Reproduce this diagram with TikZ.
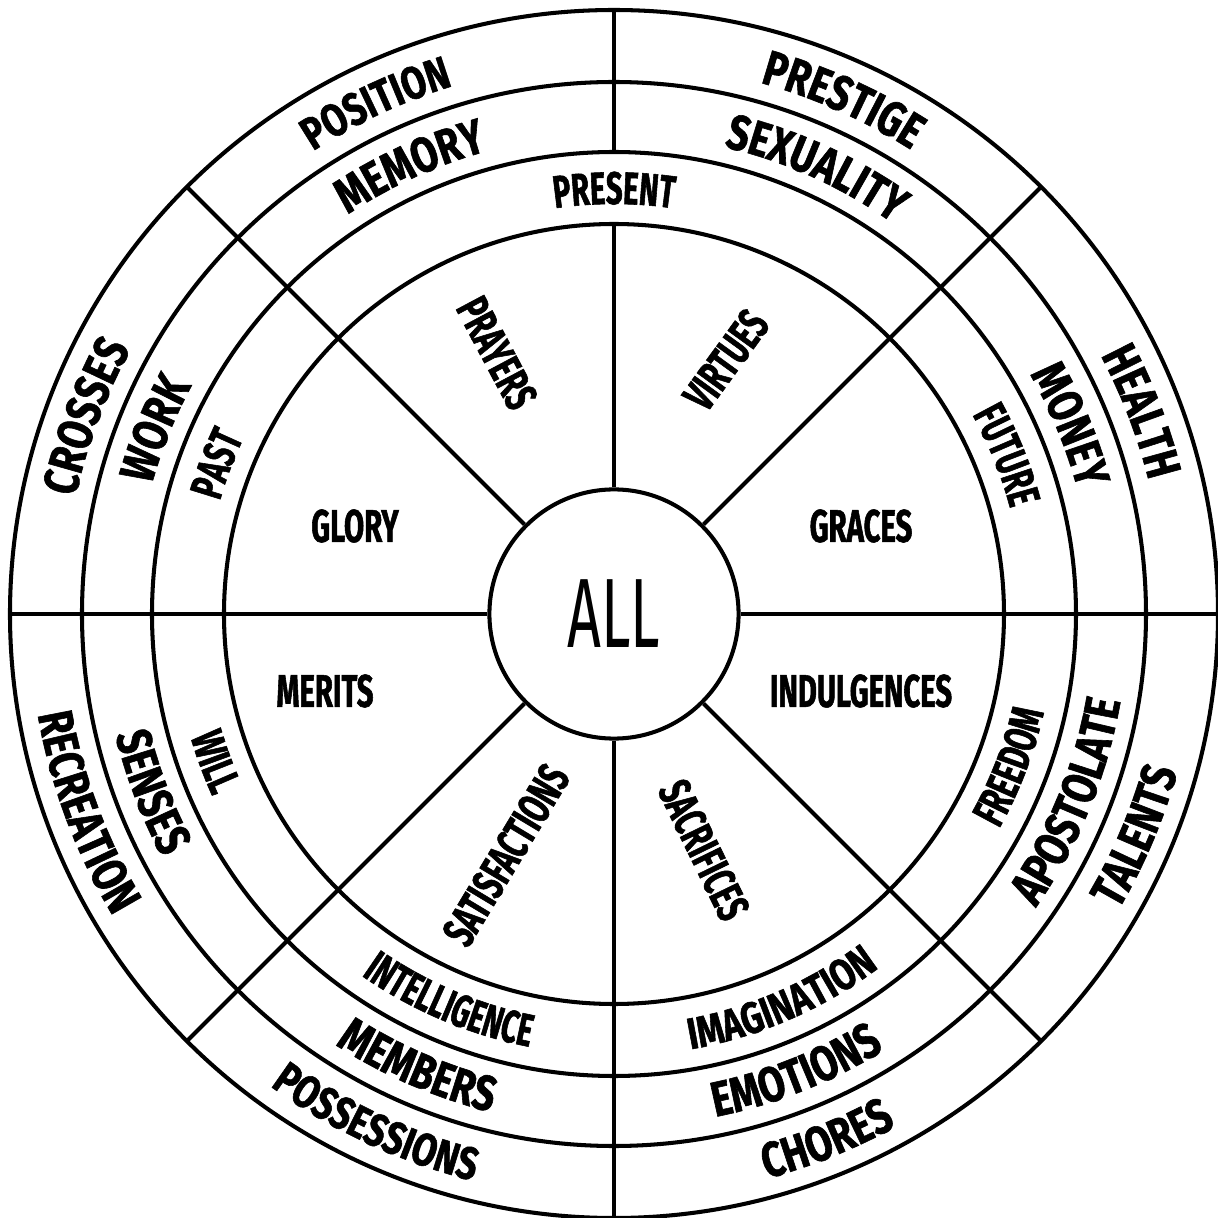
\documentclass[tikz,border=0pt]{standalone}
\usepackage{fontspec}
\usepackage{tikz}
\usetikzlibrary{decorations.text}
\newfontfamily\ringfont[FakeStretch=0.78, FakeBold=1.2]{Fira Sans}
\newfontfamily\narrowfont[FakeStretch=0.64, FakeBold=1.2]{Fira Sans}
\newfontfamily\centrefont[FakeStretch=0.6]{Fira Sans}
\newcommand{\ringtype}{\ringfont\bfseries\fontsize{14pt}{14pt}\selectfont}
\newcommand{\lessringtype}{\ringfont\bfseries\fontsize{13pt}{13pt}\selectfont}
\newcommand{\midtype}{\narrowfont\bfseries\fontsize{13pt}{13pt}\selectfont}
\newcommand{\widemidtype}{\ringfont\bfseries\fontsize{12.5pt}{12.5pt}\selectfont}
\newcommand{\alltype}{\centrefont\fontsize{28pt}{28pt}\selectfont}
% text on an arc: radius, centre angle, half span, font, text
\newcommand{\uparc}[5]{%
  \path[decorate, decoration={text along path, text align=center, text={|#4|#5}}]
    ({#2+#3}:#1) arc[start angle={#2+#3}, end angle={#2-#3}, radius=#1];}
\newcommand{\downarc}[5]{%
  \path[decorate, decoration={text along path, text align=center, text={|#4|#5}}]
    ({#2-#3}:#1) arc[start angle={#2-#3}, end angle={#2+#3}, radius=#1];}

\begin{document}
\begin{tikzpicture}[
  x=0.01cm, y=0.01cm,
  wheel/.style={line width=1.15pt},
  word/.style={font=\midtype, inner sep=0pt}
]
  \useasboundingbox (-614,-604) rectangle (604,614);
  \draw[wheel] (0,0) circle (604);
  \draw[wheel] (0,0) circle (532);
  \draw[wheel] (0,0) circle (462);
  \draw[wheel] (0,0) circle (390);
  \node[wheel, draw, circle, inner sep=0pt, minimum size=2.49cm, font=\alltype] (all) {ALL};
  \foreach \a in {0,45,135,180,225,270,315}
    \draw[wheel] (all.\a) -- (\a:604);
  \draw[wheel] (all.90) -- (90:390);
  \draw[wheel] (90:462) -- (90:604);

  \node[word, rotate=-62] (prayers) at (-117,261) {PRAYERS};
  \node[word, rotate=54] (virtues) at (112,254) {VIRTUES};
  \node[word] (glory) at (-259,88) {GLORY};
  \node[word] (graces) at (247,88) {GRACES};
  \node[word] (merits) at (-289,-77) {MERITS};
  \node[word] (indulgences) at (247,-77) {INDULGENCES};
  \node[word, rotate=59] (satisfactions) at (-108,-241) {SATISFACTIONS};
  \node[word, rotate=-64] (sacrifices) at (90,-236) {SACRIFICES};

  % outer ring
  \uparc{552}{115}{40}{\lessringtype}{POSITION}
  \uparc{551}{66}{40}{\ringtype}{PRESTIGE}
  \uparc{551}{21}{40}{\ringtype}{HEALTH}
  \uparc{551}{159.5}{40}{\ringtype}{CROSSES}
  \downarc{585}{200.5}{40}{\ringtype}{RECREATION}
  \downarc{584}{245}{40}{\lessringtype}{POSSESSIONS}
  \downarc{585}{292}{40}{\ringtype}{CHORES}
  \downarc{585}{337}{40}{\ringtype}{TALENTS}
  % second ring
  \uparc{480}{114.5}{40}{\ringtype}{MEMORY}
  \uparc{480}{65.6}{40}{\ringtype}{SEXUALITY}
  \uparc{480}{22.5}{40}{\ringtype}{MONEY}
  \uparc{480}{158}{40}{\ringtype}{WORK}
  \downarc{513}{201}{40}{\ringtype}{SENSES}
  \downarc{513}{246.6}{40}{\ringtype}{MEMBERS}
  \downarc{513}{291.6}{40}{\ringtype}{EMOTIONS}
  \downarc{514}{337.7}{40}{\ringtype}{APOSTOLATE}
  % third ring
  \uparc{410}{90}{40}{\midtype}{PRESENT}
  \uparc{410}{22}{40}{\midtype}{FUTURE}
  \uparc{410}{159.3}{40}{\midtype}{PAST}
  \downarc{441}{200.3}{40}{\midtype}{WILL}
  \downarc{441}{339}{40}{\midtype}{FREEDOM}
  \downarc{441}{247}{40}{\midtype}{INTELLIGENCE}
  \downarc{442}{293.4}{40}{\widemidtype}{IMAGINATION}
\end{tikzpicture}
\end{document}
